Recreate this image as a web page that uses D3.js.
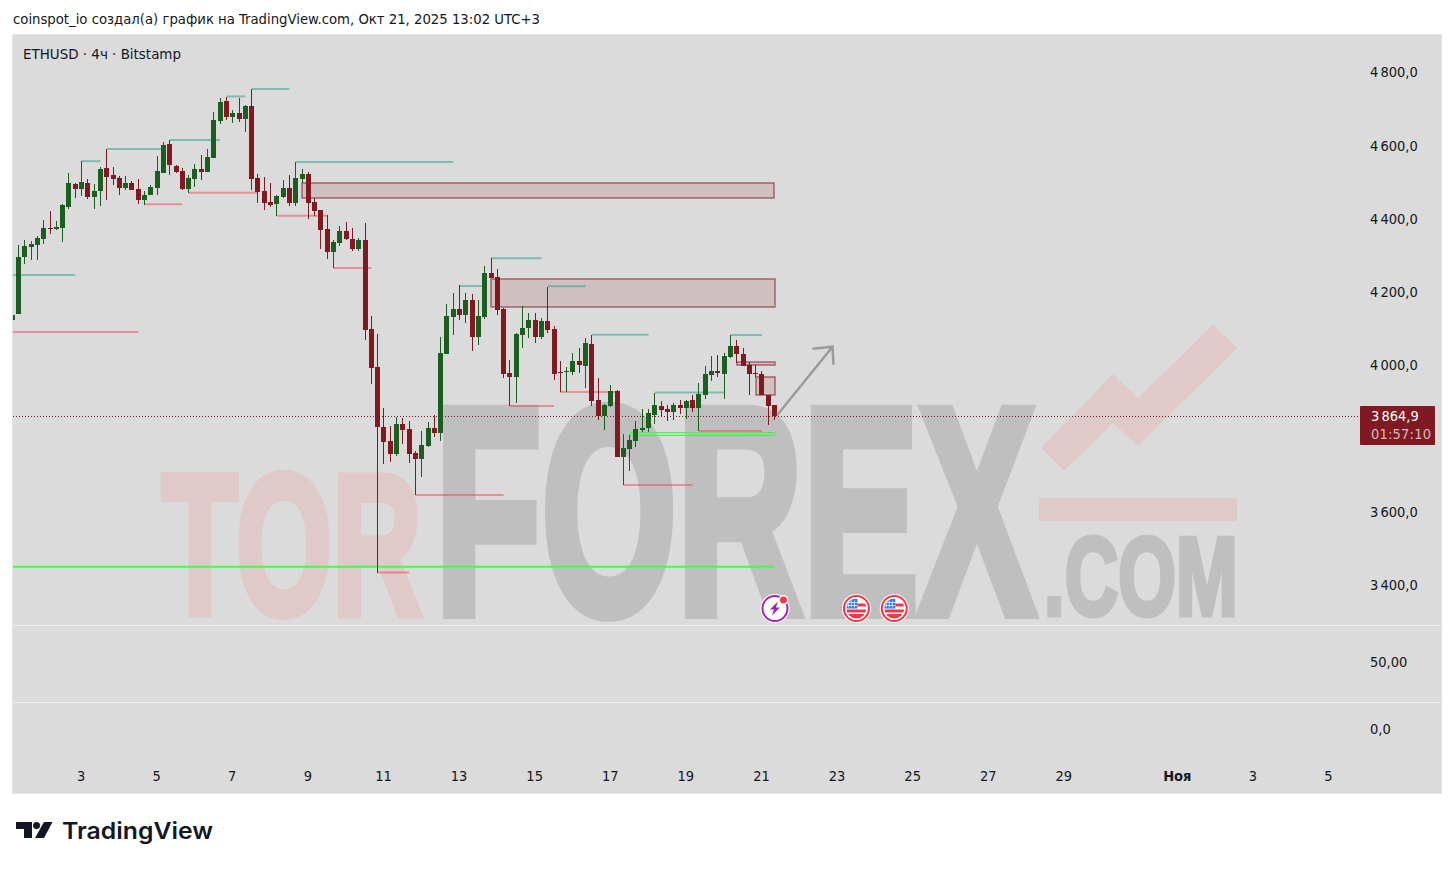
<!DOCTYPE html>
<html>
<head>
<meta charset="utf-8">
<script src="https://cdn.jsdelivr.net/npm/d3@7"></script>
<style>
  html, body { margin: 0; padding: 0; background: #fff; }
  svg { display: block; }
  text { font-family: "DejaVu Sans Condensed", "DejaVu Sans", sans-serif; }
</style>
</head>
<body>
<div id="chart"></div>
<script>
// ETHUSD 4h candles
const opens = [
  4127,4143,4299,4327,4332,4348,4378,4376,4378,4436,
  4499,4485,4501,4463,4480,4542,4523,4515,4488,4501,
  4485,4455,4469,4488,4529,4608,4548,4534,4485,4512,
  4540,4531,4570,4671,4725,4682,4693,4676,4712,4515,
  4480,4449,4444,4463,4488,4447,4512,4526,4449,4428,
  4376,4313,4337,4370,4348,4321,4346,4103,3999,3835,
  3797,3761,3843,3829,3764,3747,3783,3832,3818,4034,
  4135,4157,4141,4182,4081,4135,4256,4245,4157,3982,
  3971,4086,4105,4127,4081,4124,4103,3985,3985,3985,
  4015,4001,4061,3908,3865,3892,3933,3753,3775,3797,
  3827,3832,3868,3892,3884,3876,3895,3887,3909,3887,
  3922,3977,3988,3980,4026,4056,4034,4004,3982,3980,
  3922,3895];
const highs = [
  4141,4332,4346,4343,4357,4400,4425,4398,4444,4529,
  4501,4562,4512,4499,4545,4594,4545,4521,4521,4507,
  4512,4480,4496,4575,4613,4619,4551,4542,4523,4553,
  4578,4594,4695,4734,4736,4701,4734,4714,4758,4526,
  4518,4501,4469,4510,4523,4559,4540,4531,4460,4428,
  4414,4346,4384,4395,4378,4351,4392,4138,4089,3887,
  3838,3862,3859,3851,3769,3824,3848,3868,4081,4171,
  4201,4223,4201,4198,4182,4275,4296,4266,4160,4018,
  4092,4165,4146,4146,4133,4217,4111,4015,3999,4037,
  4051,4078,4086,3969,3898,3950,3936,3816,3813,3851,
  3884,3884,3928,3906,3895,3900,3909,3909,3922,3955,
  4001,4029,4031,4037,4086,4072,4051,4012,4004,3988,
  3922,3895];
const lows = [
  4120,4143,4280,4291,4291,4335,4362,4373,4340,4430,
  4460,4466,4458,4430,4439,4455,4496,4469,4482,4482,
  4444,4441,4469,4469,4529,4523,4529,4482,4474,4490,
  4510,4531,4570,4663,4674,4665,4668,4641,4482,4447,
  4428,4436,4411,4460,4439,4439,4501,4403,4411,4321,
  4294,4269,4329,4346,4316,4316,4072,3952,3436,3734,
  3739,3756,3788,3736,3649,3698,3780,3807,3797,4034,
  4086,4127,4119,4042,4059,4130,4242,4141,3969,3892,
  3900,4051,4078,4064,4075,4092,3963,3930,3930,3977,
  3982,3941,3892,3854,3827,3889,3753,3676,3715,3780,
  3821,3821,3843,3862,3851,3854,3870,3857,3876,3824,
  3911,3960,3971,3911,4023,4010,4001,3922,3971,3922,
  3840,3854];
const closes = [
  4141,4299,4329,4335,4351,4378,4376,4381,4441,4501,
  4485,4504,4463,4480,4540,4518,4512,4488,4501,4482,
  4455,4469,4490,4534,4605,4551,4531,4485,4515,4540,
  4531,4572,4674,4723,4682,4693,4676,4712,4512,4477,
  4447,4441,4466,4488,4447,4515,4526,4447,4425,4373,
  4313,4340,4370,4348,4321,4346,4100,3996,3835,3794,
  3761,3843,3827,3761,3747,3786,3832,3818,4037,4138,
  4157,4141,4182,4081,4138,4256,4242,4154,3980,3971,
  4089,4105,4127,4081,4124,4100,3980,3982,3988,4015,
  4004,4064,3906,3865,3895,3933,3753,3777,3799,3829,
  3832,3873,3895,3881,3876,3895,3887,3906,3887,3925,
  3980,3988,3982,4029,4056,4034,4001,3980,3979,3922,
  3892,3865];

// [from candle, to candle, price]
const highLevels = [
  [0,10,4250],[11,14,4561],[15,23.6,4594],[25,33,4619],[34,37,4738],[38,44,4758],
  [45,70,4559],[71,75,4220],[76,84,4296],[85,91,4219],[92,101,4087],[102,113,3929],[114,119,4086]];
const lowLevels = [
  [0,20,4094],[21,27,4443],[28,39,4475],[42,50,4412],[51,57,4269],[58,63,3437],
  [64,78,3649],[79,86,3892],[87,96,3930],[97,108,3676],[109,119,3824]];
// [from candle, to candle, top price, bottom price]
const zones = [[46,121,4502,4461],[76,121,4238,4161],[115,121,4011,4002],[118,121,3970,3921]];
const supportLine = [0,121,3453];
const supportBand = [98,121,3820,3812];
const arrowFrom = [121.4,3867], arrowTo = [130.2,4054];
const lastPrice = 3864.9;

const priceTicks = [4800,4600,4400,4200,4000,3600,3400];
const oscTicks = [50,0];
const oscLabels = ["50,00","0,0"];
const dateTicks = [11,23,35,47,59,71,83,95,107,119,131,143,155,167,185,197,209];
const dateLabels = ["3","5","7","9","11","13","15","17","19","21","23","25","27","29","Ноя","3","5"];
const eventCandles = [121,134,140];

const W = 1454, H = 869;
const panel = { left: 13, right: 1441, top: 35, bottom: 793, scale: 1360 };
const green = "#1b5e20", red = "#801922";

const svg = d3.select("#chart").append("svg").attr("width", W).attr("height", H);

// SCALES
const x = d3.scaleLinear().domain([0, 121]).range([12.25, 774.55]);
const y = d3.scaleLinear().domain([3400, 4800]).range([586.1, 73.7]);
const yOsc = d3.scaleLinear().domain([0, 50]).range([730, 663]);

// PANEL
svg.append("rect").attr("x", 12.5).attr("y", 34.5).attr("width", 1429).attr("height", 759)
  .attr("fill", "#dbdbdb").attr("stroke", "#e4e4e4");
svg.selectAll(".sep").data([625.5, 702.5]).enter().append("line")
  .attr("x1", panel.left).attr("x2", panel.right).attr("y1", d => d).attr("y2", d => d)
  .attr("stroke", "#f0f0f0");

// WATERMARK
const wm = svg.append("g");
function wmText(s, xPos, base, size, len, fill, thick) {
  wm.append("text").text(s).attr("x", xPos).attr("y", base)
    .attr("textLength", len).attr("lengthAdjust", "spacingAndGlyphs")
    .style("font-family", "'Liberation Sans Narrow', 'Liberation Sans', sans-serif")
    .style("font-weight", 700).style("font-size", size + "px").attr("fill", fill)
    .attr("stroke", fill).attr("stroke-width", thick).attr("stroke-linejoin", "miter");
}
wmText("TOR", 162, 614, 200, 260, "#dfc9c9", 8);
wmText("FOREX", 435, 613, 294, 600, "#bfbfbf", 12);
wmText(".COM", 1044, 614.5, 111, 194, "#bfbfbf", 5);
wm.append("polygon").attr("fill", "#dfc9c9")
  .attr("points", "1041,448 1113,374 1138,398 1213,325 1237,348 1138,446 1113,423 1064,471");
wm.append("rect").attr("x", 1039).attr("y", 498).attr("width", 198).attr("height", 23).attr("fill", "#dfc9c9");

// CHART AREA
svg.append("clipPath").attr("id", "plot").append("rect")
  .attr("x", panel.left).attr("y", panel.top).attr("width", panel.scale - panel.left).attr("height", 590);
const plot = svg.append("g").attr("clip-path", "url(#plot)");

// zones
plot.selectAll(".zone").data(zones).enter().append("rect")
  .attr("x", d => Math.round(x(d[0]))).attr("width", d => Math.round(x(d[1]) - x(d[0])))
  .attr("y", d => Math.round(y(d[2]))).attr("height", d => Math.round(y(d[3]) - y(d[2])))
  .attr("fill", red).attr("fill-opacity", 0.13)
  .attr("stroke", red).attr("stroke-opacity", 0.6).attr("stroke-width", 1.5);

// green support
plot.append("line").attr("x1", x(supportLine[0])).attr("x2", x(supportLine[1]))
  .attr("y1", y(supportLine[2])).attr("y2", y(supportLine[2]))
  .attr("stroke", "#3dff47").attr("stroke-width", 2);
plot.append("rect").attr("x", Math.round(x(supportBand[0])) + 0.5).attr("width", Math.round(x(supportBand[1]) - x(supportBand[0])))
  .attr("y", Math.round(y(supportBand[2])) + 0.5).attr("height", 3)
  .attr("fill", "#3dff47").attr("fill-opacity", 0.15).attr("stroke", "#3dff47");

// last price
plot.append("line").attr("x1", panel.left).attr("x2", panel.scale)
  .attr("y1", 416.5).attr("y2", 416.5)
  .attr("stroke", red).attr("stroke-dasharray", "1,2");

// liquidity levels
function drawLevels(rows, color) {
  plot.selectAll(null).data(rows).enter().append("line")
    .attr("x1", d => x(d[0])).attr("x2", d => x(d[1]))
    .attr("y1", d => y(d[2])).attr("y2", d => y(d[2]))
    .attr("stroke", color).attr("stroke-opacity", 0.45).attr("stroke-width", 2);
}
drawLevels(highLevels, "#089981");
drawLevels(lowLevels, "#f23645");

// candles
const candleRows = d3.range(opens.length);
const cx = i => Math.floor(x(i));
plot.selectAll(".wick").data(candleRows).enter().append("rect")
  .attr("x", i => cx(i)).attr("width", 1)
  .attr("y", i => Math.round(y(highs[i])))
  .attr("height", i => Math.max(1, Math.round(y(lows[i])) - Math.round(y(highs[i]))))
  .attr("fill", i => closes[i] >= opens[i] ? green : red);
plot.selectAll(".body").data(candleRows).enter().append("rect")
  .attr("x", i => cx(i) - 2).attr("width", 5)
  .attr("y", i => Math.round(y(Math.max(opens[i], closes[i]))))
  .attr("height", i => Math.max(1, Math.round(y(Math.min(opens[i], closes[i]))) - Math.round(y(Math.max(opens[i], closes[i])))))
  .attr("fill", i => closes[i] >= opens[i] ? green : red);

// arrow
const ax = x(arrowTo[0]), ay = y(arrowTo[1]);
svg.append("path")
  .attr("d", d3.line()([[x(arrowFrom[0]), y(arrowFrom[1])], [ax, ay]]) + d3.line()([[ax - 20, ay + 2], [ax, ay], [ax + 1, ay + 18]]))
  .attr("fill", "none").attr("stroke", "#8f8f8f").attr("stroke-opacity", 0.85).attr("stroke-width", 2.5);

// events
svg.append("clipPath").attr("id", "flag").append("circle").attr("r", 10);
eventCandles.forEach((c, k) => {
  const g = svg.append("g").attr("transform", "translate(" + (x(c) + (k ? 0 : 0.4)) + ",608.5)");
  g.append("circle").attr("r", 14.5).attr("fill", "#fff");
  if (k === 0) {
    g.append("circle").attr("r", 12.5).attr("fill", "#fff").attr("stroke", "#9c27b0").attr("stroke-width", 2);
    g.append("path").attr("d", "M3,-7 L-5,1 L-1,1 L-3,7 L5,-1 L1,-1 Z").attr("fill", "#9c27b0");
    g.append("circle").attr("cx", 8.5).attr("cy", -8.5).attr("r", 5).attr("fill", "#fff");
    g.append("circle").attr("cx", 8.5).attr("cy", -8.5).attr("r", 3.5).attr("fill", "#f23645");
  } else {
    g.append("circle").attr("r", 12.5).attr("fill", "#fff").attr("stroke", "#f23645").attr("stroke-width", 2);
    const f = g.append("g").attr("clip-path", "url(#flag)");
    f.append("rect").attr("x", -10).attr("y", -10).attr("width", 20).attr("height", 20).attr("fill", "#fff");
    f.append("rect").attr("x", -10).attr("y", 1).attr("width", 20).attr("height", 3).attr("fill", "#f23645");
    f.append("rect").attr("x", -10).attr("y", 5.5).attr("width", 20).attr("height", 5).attr("fill", "#f23645");
    f.append("rect").attr("x", 1).attr("y", -5).attr("width", 10).attr("height", 3).attr("fill", "#f23645");
    f.append("rect").attr("x", -10).attr("y", -10).attr("width", 11).attr("height", 10).attr("fill", "#3179f5");
    f.append("path").attr("d", "M-8,-8V-1M-5,-8V-1M-2,-8V-1M-10,-6H1M-10,-3H1")
      .attr("stroke", "#fff").attr("stroke-width", 0.7).attr("fill", "none");
  }
});

// AXES
function styleAxis(g) {
  g.select(".domain").remove();
  g.selectAll(".tick line").remove();
  g.selectAll("text").style("font-size", "14.5px").style("word-spacing", "-2px").attr("fill", "#131722");
}
svg.append("g").attr("transform", "translate(1370,-1.5)")
  .call(d3.axisRight(y).tickValues(priceTicks).tickSize(0).tickPadding(0)
    .tickFormat(d => d3.format(",.1f")(d).replace(",", " ").replace(".", ",")))
  .call(styleAxis);
svg.append("g").attr("transform", "translate(1370,-1)")
  .call(d3.axisRight(yOsc).tickValues(oscTicks).tickSize(0).tickPadding(0)
    .tickFormat(d => oscLabels[oscTicks.indexOf(d)]))
  .call(styleAxis);
const xAxis = svg.append("g").attr("transform", "translate(-1,771)")
  .call(d3.axisBottom(x).tickValues(dateTicks).tickSize(0).tickPadding(0)
    .tickFormat((d, i) => dateLabels[i]))
  .call(styleAxis);
xAxis.selectAll("text").filter(t => t === 185).style("font-weight", 700);

// PRICE LABEL
svg.append("rect").attr("x", 1360).attr("y", 406).attr("width", 75).attr("height", 39).attr("rx", 1).attr("fill", red);
svg.append("text").text("3 864,9").attr("x", 1371).attr("y", 420.5).attr("fill", "#fff")
  .style("font-size", "14.5px").style("word-spacing", "-2px");
svg.append("text").text("01:57:10").attr("x", 1371).attr("y", 438.5).attr("fill", "#fff").attr("fill-opacity", 0.7)
  .attr("textLength", 60).style("font-size", "14.5px");

// TITLES
svg.append("text").text("coinspot_io создал(а) график на TradingView.com, Окт 21, 2025 13:02 UTC+3")
  .attr("x", 13).attr("y", 24).attr("fill", "#131722")
  .attr("textLength", 527).attr("lengthAdjust", "spacingAndGlyphs").style("font-size", "14.5px");
svg.append("text").text("ETHUSD · 4ч · Bitstamp")
  .attr("x", 23).attr("y", 59).attr("fill", "#131722")
  .attr("textLength", 158).attr("lengthAdjust", "spacingAndGlyphs").style("font-size", "14.5px");

// LOGO
const logo = svg.append("g").attr("fill", "#131722");
logo.append("path").attr("d", "M16,822H32V838H24V829H16Z");
logo.append("circle").attr("cx", 36.5).attr("cy", 825.5).attr("r", 3.5);
logo.append("path").attr("d", "M44,822H52.5L44,838H35Z");
logo.append("text").text("TradingView").attr("x", 62).attr("y", 839)
  .attr("textLength", 151).attr("lengthAdjust", "spacingAndGlyphs")
  .style("font-family", "Inter, sans-serif").style("font-weight", 600).style("font-size", "23px");
</script>
</body>
</html>
